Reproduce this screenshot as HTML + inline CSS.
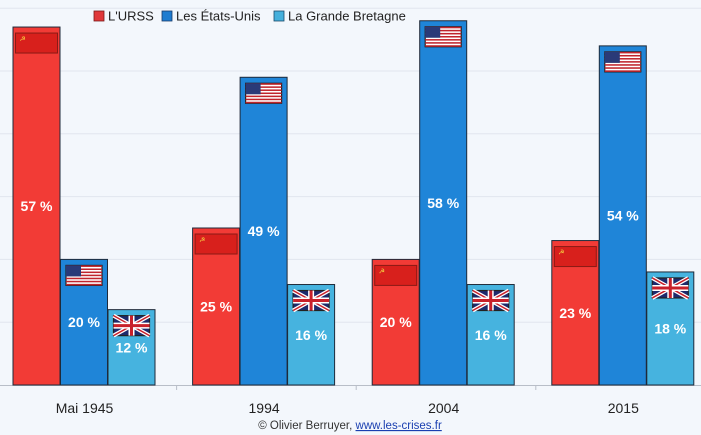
<!DOCTYPE html>
<html><head><meta charset="utf-8"><style>
html,body{margin:0;padding:0;background:#f3f7fc;}
svg{display:block;font-family:"Liberation Sans","DejaVu Sans",sans-serif;}
</style></head><body>
<svg id="c" width="701" height="435" viewBox="0 0 701 435">
<rect width="701" height="435" fill="#f3f7fc"/>
<g id="grid"></g>
<g id="bars"></g>
<g id="legend">
<rect x="94" y="11" width="10" height="10" fill="#e0383a" stroke="#7a1a1a" stroke-width="0.8"/>
<text x="108" y="20.5" font-size="13" fill="#222">L'URSS</text>
<rect x="162" y="11" width="10" height="10" fill="#1f7cd0" stroke="#1a3a6a" stroke-width="0.8"/>
<text x="176" y="20.5" font-size="13" fill="#222">Les États-Unis</text>
<rect x="274" y="11" width="10" height="10" fill="#45b0dc" stroke="#1a4a6a" stroke-width="0.8"/>
<text x="288" y="20.5" font-size="13" fill="#222">La Grande Bretagne</text>
</g>
<text x="350" y="429" font-size="11.5" text-anchor="middle" fill="#333">© Olivier Berruyer, <tspan fill="#1a3fb0" text-decoration="underline">www.les-crises.fr</tspan></text>
</svg>
<script>
const categories=["Mai 1945","1994","2004","2015"];
const urss=[57,25,20,23];
const usa=[20,49,58,54];
const uk=[12,16,16,18];
const gridTicks=[10,20,30,40,50,60];
const NS="http://www.w3.org/2000/svg";
const base=385, pxPer=6.28, x0=13, groupW=179.6, barW=47;
const y=v=>base-v*pxPer;
function mk(t,a,p){const e=document.createElementNS(NS,t);for(const k in a)e.setAttribute(k,a[k]);p.appendChild(e);return e;}
const grid=document.getElementById('grid'),bars=document.getElementById('bars');
gridTicks.forEach(t=>{const l=mk('line',{x1:0,x2:701,y1:y(t),y2:y(t),stroke:'#e1e6ee','stroke-width':1},grid);

});
const ax=mk('line',{x1:0,x2:701,y1:base+0.5,y2:base+0.5,stroke:'#b8bec8','stroke-width':1},grid);


const series=[{d:urss,c:'#f23b36',n:'urss',f:'ussr'},{d:usa,c:'#1f85d8',n:'usa',f:'usa'},{d:uk,c:'#46b3df',n:'uk',f:'uk'}];
function flag(type,cx,top,p){
 const w=36,h=20,fx=cx-w/2;
 const g=mk('g',{},p);
 
 
 if(type==='ussr'){mk('rect',{x:fx-3,y:top,width:w+6,height:h,fill:'#d8201c',stroke:'#8a1a15','stroke-width':1},g);
  mk('text',{x:fx+1,y:top+8,'font-size':7,fill:'#f6d040'},g).textContent='☭';}
 else if(type==='usa'){mk('rect',{x:fx,y:top,width:w,height:h,fill:'#fff',stroke:'#222','stroke-width':1.2},g);
  for(let i=0;i<7;i++)mk('rect',{x:fx,y:top+i*h/6.5,width:w,height:h/13,fill:'#c0242c'},g);
  mk('rect',{x:fx,y:top,width:15,height:11,fill:'#2a3a78'},g);}
 else{mk('rect',{x:fx,y:top,width:w,height:h,fill:'#1d2a6c',stroke:'#222','stroke-width':1.2},g);
  mk('path',{d:`M${fx} ${top}L${fx+w} ${top+h}M${fx+w} ${top}L${fx} ${top+h}`,stroke:'#fff','stroke-width':4},g);
  mk('path',{d:`M${fx} ${top}L${fx+w} ${top+h}M${fx+w} ${top}L${fx} ${top+h}`,stroke:'#c8202a','stroke-width':1.5},g);
  mk('path',{d:`M${cx} ${top}V${top+h}M${fx} ${top+h/2}H${fx+w}`,stroke:'#fff','stroke-width':6},g);
  mk('path',{d:`M${cx} ${top}V${top+h}M${fx} ${top+h/2}H${fx+w}`,stroke:'#c8202a','stroke-width':3},g);}
}
categories.forEach((cat,i)=>{
 const gx=x0+i*groupW;
 series.forEach((s,j)=>{
  const v=s.d[i],bx=gx+j*barW+j*0.5,top=y(v);
  const r=mk('rect',{x:bx,y:top,width:barW,height:base-top,fill:s.c,stroke:'#1e2a3a','stroke-width':1},bars);
  
  
  flag(s.f,bx+barW/2,top+6,bars);
  const t=mk('text',{x:bx+barW/2,y:(top+base)/2+5,'text-anchor':'middle','font-size':14,'font-weight':'bold',fill:'#fff'},bars);
  t.textContent=v+' %';
  
  
 });
 const c=mk('text',{x:gx+barW*1.5+1,y:413,'text-anchor':'middle','font-size':14,fill:'#222'},bars);
 c.textContent=cat;
 
 
 if(i>0){const tk=mk('line',{x1:gx-16,x2:gx-16,y1:base,y2:base+5,stroke:'#b8bec8'},bars);
 
 }
});
</script>
</body></html>
